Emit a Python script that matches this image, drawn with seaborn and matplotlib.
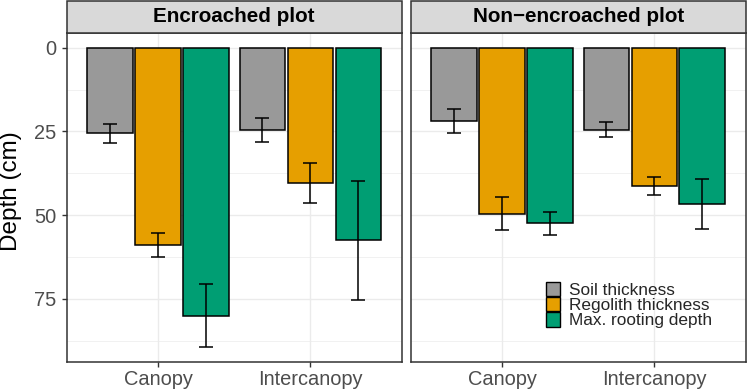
import numpy as np
import pandas as pd
import matplotlib
matplotlib.use("Agg")
import matplotlib.pyplot as plt
import seaborn as sns
from matplotlib.patches import Rectangle
from matplotlib.ticker import FixedLocator

# ---- data ----
plots = ["Encroached plot", "Non\u2212encroached plot"]
positions = ["Canopy", "Intercanopy"]
variables = ["Soil thickness", "Regolith thickness", "Max. rooting depth"]
colors = ["#999999", "#E69F00", "#009E73"]

enc_soil_mean = [25.6, 24.5]
enc_soil_se = [2.9, 3.6]
enc_regolith_mean = [58.9, 40.5]
enc_regolith_se = [3.7, 6.0]
enc_root_mean = [80.0, 57.5]
enc_root_se = [9.5, 17.8]

non_soil_mean = [21.9, 24.5]
non_soil_se = [3.7, 2.2]
non_regolith_mean = [49.6, 41.3]
non_regolith_se = [4.9, 2.8]
non_root_mean = [52.5, 46.6]
non_root_se = [3.5, 7.5]

y_ticks = [0, 25, 50, 75]

rows = []
for plot, series in [
    (plots[0], [(enc_soil_mean, enc_soil_se), (enc_regolith_mean, enc_regolith_se), (enc_root_mean, enc_root_se)]),
    (plots[1], [(non_soil_mean, non_soil_se), (non_regolith_mean, non_regolith_se), (non_root_mean, non_root_se)]),
]:
    for var, (m, s) in zip(variables, series):
        for pos, mv, sv in zip(positions, m, s):
            rows.append(dict(plot=plot, position=pos, variable=var, mean=mv, se=sv))
df = pd.DataFrame(rows)

# ---- style ----
sns.set_theme(style="white")
plt.rcParams["font.family"] = ["Liberation Sans", "DejaVu Sans"]

fig = plt.figure(figsize=(7.47, 3.9), dpi=100)
ax1 = fig.add_axes([0.0893, 0.071, 0.4485, 0.845])
ax2 = fig.add_axes([0.5498, 0.071, 0.4485, 0.845], sharey=ax1)
axes = [ax1, ax2]

ymax = df["mean"].add(df["se"]).max()
pad = 0.05 * ymax

for i, (ax, plot) in enumerate(zip(axes, plots)):
    sub = df[df["plot"] == plot]
    sns.barplot(data=sub, x="position", y="mean", hue="variable",
                order=positions, hue_order=variables, palette=colors,
                width=0.945, gap=0.048, edgecolor="black", linewidth=1.1,
                errorbar=None, ax=ax, legend=(i == 1), saturation=1)
    conts = list(ax.containers)
    for cont, var in zip(conts, variables):
        for bar, pos in zip(cont, positions):
            r = sub[(sub["variable"] == var) & (sub["position"] == pos)].iloc[0]
            x = bar.get_x() + bar.get_width() / 2
            ax.errorbar(x, r["mean"], yerr=r["se"], fmt="none", ecolor="black",
                        elinewidth=1.1, capsize=5, capthick=1.1, zorder=5)

    ax.set_xlim(-0.6, 1.6)
    ax.set_ylim(ymax + pad, -pad)
    ax.yaxis.set_major_locator(FixedLocator(y_ticks))
    ax.yaxis.set_minor_locator(FixedLocator([12.5, 37.5, 62.5, 87.5]))
    ax.set_axisbelow(True)
    ax.grid(True, which="major", color="#EBEBEB", lw=1.0)
    ax.yaxis.grid(True, which="minor", color="#EBEBEB", lw=0.5)
    ax.tick_params(axis="both", which="major", length=3.8, width=1.0, color="#333333",
                   labelcolor="#4D4D4D", labelsize=14.4, left=True, bottom=True)
    ax.tick_params(axis="y", which="major", pad=3.5)
    ax.tick_params(axis="x", which="major", pad=1.5)
    ax.tick_params(which="minor", length=0)
    ax.set_xlabel("")
    ax.set_ylabel("")
    for sp in ax.spines.values():
        sp.set_color("#333333")
        sp.set_linewidth(1.1)
    # facet strip
    h = 0.0977
    ax.add_patch(Rectangle((0, 1), 1, h, transform=ax.transAxes, clip_on=False,
                           facecolor="#D9D9D9", edgecolor="#333333", lw=1.1, zorder=3))
    ax.text(0.5, 1 + h / 2, plot, transform=ax.transAxes, ha="center", va="center",
            fontsize=14.9, fontweight="bold", color="black")

ax2.tick_params(axis="y", which="major", left=False, labelleft=False)

handles, labels = ax2.get_legend_handles_labels()
for hd in handles:
    hd.set_edgecolor("black")
    hd.set_linewidth(1.0)
ax2.legend(handles, labels, loc="upper left", bbox_to_anchor=(0.404, 0.245),
           frameon=False, fontsize=12.4, handlelength=0.83, handleheight=0.92,
           handletextpad=0.5, labelspacing=-0.05, borderpad=0, borderaxespad=0)

fig.text(11 / 747, 1 - 191 / 390, "Depth (cm)", rotation=90, ha="center", va="center",
         fontsize=17.5, color="black")

fig.savefig("out.png", dpi=100)
